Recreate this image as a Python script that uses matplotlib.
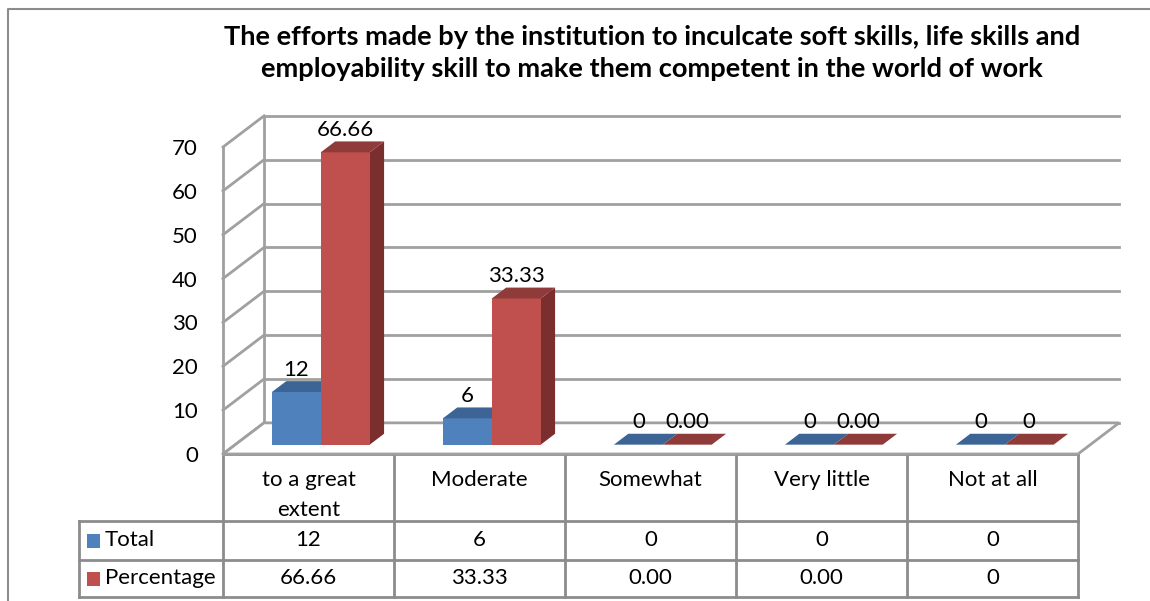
import matplotlib
matplotlib.use('agg')
import matplotlib.pyplot as plt
from matplotlib.patches import Polygon, Rectangle

# data
categories = ['to a great\nextent', 'Moderate', 'Somewhat', 'Very little', 'Not at all']
series_names = ['Total', 'Percentage']
total = [12, 6, 0, 0, 0]
percentage = [66.66, 33.33, 0.00, 0.00, 0]
total_labels = ['12', '6', '0', '0', '0']
pct_labels = ['66.66', '33.33', '0.00', '0.00', '0']
y_ticks = [0, 10, 20, 30, 40, 50, 60, 70]
title = ('The efforts made by the institution to inculcate soft skills, life skills and\n'
         'employability skill to make them competent in the world of work')

# colours: front, top, side
blue = ('#4F81BD', '#3C6595', '#2F5079')
red = ('#C0504D', '#8E3B39', '#7A2F2E')
grid_c = '#A0A0A0'
line_c = '#8C8C8C'

plt.rcParams['font.family'] = ['Lato', 'DejaVu Sans']
FS = 16

W, H = 1150, 601
fig = plt.figure(figsize=(W / 100, H / 100), dpi=100)

# pixel overlay for frame and data table
pax = fig.add_axes([0, 0, 1, 1])
pax.set_xlim(0, W)
pax.set_ylim(H, 0)
pax.axis('off')

# front plane of the 3d plot area
L, R, B, T = 223, 1078, 454, 147
n = len(categories)
ax = fig.add_axes([L / W, 1 - B / H, (R - L) / W, (B - T) / H])
ax.set_xlim(0, n)
ax.set_ylim(0, y_ticks[-1])
ax.patch.set_visible(False)
for s in ax.spines.values():
    s.set_visible(False)
ax.set_xticks([])
ax.set_yticks(y_ticks)
ax.tick_params(axis='y', length=0, pad=18, labelsize=FS)

# depth of the box (data units) and bar placement
DX, DY = 0.24, 7.1
f0, fd = 0.3, 0.35
bar_w = 0.286
gap = (1 - 2 * bar_w) / 2

# walls and gridlines
for v in y_ticks:
    ax.plot([DX, n + DX], [v + DY, v + DY], color=grid_c, lw=2, clip_on=False, zorder=1)
    ax.plot([0, DX], [v, v + DY], color=grid_c, lw=2, clip_on=False, zorder=1)
ax.plot([0, 0], [0, y_ticks[-1]], color=grid_c, lw=2, clip_on=False, zorder=1)
ax.plot([DX, DX], [DY, y_ticks[-1] + DY], color=grid_c, lw=2, clip_on=False, zorder=1)
ax.add_patch(Polygon([(0, 0), (n, 0), (n + DX, DY), (DX, DY)], closed=True,
                     facecolor='white', edgecolor=grid_c, lw=2, clip_on=False, zorder=1))

ox, oy = f0 * DX, f0 * DY
bx, by = fd * DX, fd * DY


def draw_bar(x, v, cols, label):
    x0 = x + ox
    y0 = oy
    ax.add_patch(Polygon([(x0 + bar_w, y0), (x0 + bar_w + bx, y0 + by),
                          (x0 + bar_w + bx, v + y0 + by), (x0 + bar_w, v + y0)],
                         closed=True, facecolor=cols[2], lw=0, clip_on=False, zorder=3))
    if v > 0:
        ax.add_patch(Rectangle((x0, y0), bar_w, v, facecolor=cols[0], lw=0,
                               clip_on=False, zorder=3))
    ax.add_patch(Polygon([(x0, v + y0), (x0 + bar_w, v + y0),
                          (x0 + bar_w + bx, v + y0 + by), (x0 + bx, v + y0 + by)],
                         closed=True, facecolor=cols[1], lw=0, clip_on=False, zorder=3))
    ax.annotate(label, (x0 + bar_w / 2, v + y0 + by), xytext=(0, 4),
                textcoords='offset points', ha='center', va='baseline',
                fontsize=FS, zorder=5, annotation_clip=False)


for i in range(n):
    draw_bar(i + gap, total[i], blue, total_labels[i])
    draw_bar(i + gap + bar_w, percentage[i], red, pct_labels[i])

# title
fig.text(652 / W, 1 - 53 / H, title, ha='center', va='center', fontsize=19.6,
         fontweight='bold', linespacing=1.42)

# chart frame
pax.plot([8, 8, W], [H, 9, 9], color=line_c, lw=1.5)

# data table
col_x = [L + i * (R - L) / n for i in range(n + 1)]
row_y = [B, 521, 560, 597]
lx = 79
pax.plot([col_x[0], col_x[-1]], [row_y[0], row_y[0]], color=line_c, lw=2)
for y in row_y[1:]:
    pax.plot([lx, col_x[-1]], [y, y], color=line_c, lw=2)
for x in col_x:
    pax.plot([x, x], [row_y[0], row_y[-1]], color=line_c, lw=2)
pax.plot([lx, lx], [row_y[1], row_y[-1]], color=line_c, lw=2)

for i, cat in enumerate(categories):
    cx = (col_x[i] + col_x[i + 1]) / 2
    pax.text(cx, 470, cat, ha='center', va='top', fontsize=FS, linespacing=1.6)
    pax.text(cx, (row_y[1] + row_y[2]) / 2, total_labels[i], ha='center', va='center', fontsize=FS)
    pax.text(cx, (row_y[2] + row_y[3]) / 2, pct_labels[i], ha='center', va='center', fontsize=FS)

for k, (name, cols) in enumerate(zip(series_names, [blue, red])):
    cy = (row_y[k + 1] + row_y[k + 2]) / 2
    pax.add_patch(Rectangle((87, cy - 7), 13, 14, facecolor=cols[0], lw=0))
    pax.text(105, cy, name, ha='left', va='center', fontsize=FS)

plt.savefig('out.png', dpi=100)
plt.close()
